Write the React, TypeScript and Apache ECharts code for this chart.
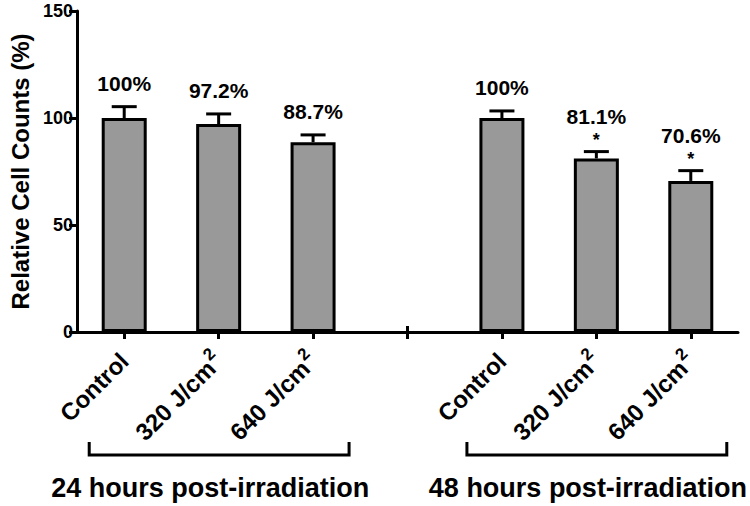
import React, { useEffect, useRef } from "react";
import * as echarts from "echarts";

const categories = ["Control", "320 J/cm²", "640 J/cm²", "", "Control", "320 J/cm²", "640 J/cm²"];
const values: (number | null)[] = [100, 97.2, 88.7, null, 100, 81.1, 70.6];
const errors: (number | null)[] = [5.3, 4.7, 3.4, null, 3.3, 3.2, 4.8];
const valueLabels = ["100%", "97.2%", "88.7%", "", "100%", "81.1%", "70.6%"];
const significance = ["", "", "", "", "", "*", "*"];
const groupNames = ["24 hours post-irradiation", "48 hours post-irradiation"];
const groupRanges = [
  [0, 2],
  [4, 6],
];
const yMin = 0;
const yMax = 150;
const yInterval = 50;

const FONT = '"Liberation Sans", Arial, Helvetica, sans-serif';

export default function App() {
  const ref = useRef<HTMLDivElement>(null);

  useEffect(() => {
    if (!ref.current) return;
    const chart = echarts.init(ref.current, undefined, { renderer: "svg" });

    const errData = categories.map((_, i) =>
      values[i] == null ? [i, 0, 0, 1] : [i, values[i] as number, errors[i] as number, 0]
    );
    const bracketData = groupRanges.map((r, g) => [r[0], r[1], g]);

    chart.setOption({
      animation: false,
      backgroundColor: "#ffffff",
      grid: { left: 74, right: 12, top: 11, bottom: 174, containLabel: false },
      xAxis: {
        type: "category",
        data: categories,
        axisLine: { show: true, lineStyle: { color: "#000", width: 3 } },
        axisTick: { show: true, alignWithLabel: true, length: 7, lineStyle: { color: "#000", width: 3 } },
        splitLine: { show: false },
        axisLabel: {
          interval: 0,
          rotate: 45,
          margin: 25,
          color: "#000",
          fontWeight: "bold",
          fontSize: 24,
          fontFamily: FONT,
          lineHeight: 34,
          formatter: (v: string) => (v.indexOf("²") >= 0 ? v.replace("²", "") + "{sup|2}" : v),
          rich: {
            sup: {
              fontSize: 17,
              fontWeight: "bold",
              fontFamily: FONT,
              color: "#000",
              verticalAlign: "top",
              lineHeight: 10,
              padding: [0, 0, 0, 1],
            },
          },
        },
      },
      yAxis: {
        type: "value",
        min: yMin,
        max: yMax,
        interval: yInterval,
        name: "Relative Cell Counts (%)",
        nameLocation: "middle",
        nameGap: 45,
        nameTextStyle: { color: "#000", fontWeight: "bold", fontSize: 24, fontFamily: FONT },
        axisLine: { show: true, lineStyle: { color: "#000", width: 3 } },
        axisTick: { show: true, length: 8, lineStyle: { color: "#000", width: 3 } },
        splitLine: { show: false },
        axisLabel: { color: "#000", fontWeight: "bold", fontSize: 18, fontFamily: FONT, margin: 4 },
      },
      series: [
        {
          type: "bar",
          data: values.map((v) => (v == null ? "-" : v)),
          barWidth: 45,
          itemStyle: { color: "#999999", borderColor: "#000", borderWidth: 3 },
          z: 2,
        },
        {
          type: "custom",
          clip: false,
          z: 3,
          data: errData,
          encode: { x: 0, y: 1 },
          renderItem: (params: any, api: any) => {
            const i = api.value(0);
            const v = api.value(1);
            const e = api.value(2);
            const isBreak = api.value(3);
            if (isBreak) {
              const p = api.coord([i, 0]);
              return {
                type: "line",
                shape: { x1: p[0], y1: p[1] - 6, x2: p[0], y2: p[1] + 7 },
                style: { stroke: "#000", lineWidth: 3 },
              };
            }
            const base = api.coord([i, v]);
            const top = api.coord([i, v + e]);
            const children: any[] = [
              {
                type: "line",
                shape: { x1: base[0], y1: base[1], x2: top[0], y2: top[1] },
                style: { stroke: "#000", lineWidth: 3 },
              },
              {
                type: "line",
                shape: { x1: top[0] - 12.5, y1: top[1], x2: top[0] + 12.5, y2: top[1] },
                style: { stroke: "#000", lineWidth: 3 },
              },
            ];
            const idx = params.dataIndex;
            const star = significance[idx];
            let labelY = top[1] - 23;
            if (star) {
              children.push({
                type: "text",
                x: top[0],
                y: top[1] - 12,
                style: {
                  text: star,
                  fill: "#000",
                  fontSize: 18,
                  fontWeight: "bold",
                  fontFamily: FONT,
                  align: "center",
                  verticalAlign: "middle",
                },
              });
              labelY = top[1] - 35;
            }
            children.push({
              type: "text",
              x: top[0],
              y: labelY,
              style: {
                text: valueLabels[idx],
                fill: "#000",
                fontSize: 21,
                fontWeight: "bold",
                fontFamily: FONT,
                align: "center",
                verticalAlign: "middle",
              },
            });
            return { type: "group", children };
          },
        },
        {
          type: "custom",
          clip: false,
          z: 3,
          data: bracketData,
          encode: { x: [0, 1] },
          renderItem: (params: any, api: any) => {
            const s = api.value(0);
            const e = api.value(1);
            const g = api.value(2);
            const p0 = api.coord([s, 0]);
            const p1 = api.coord([e, 0]);
            const left = p0[0] - 35;
            const right = p1[0] + 36;
            const yTop = p0[1] + 110;
            const yBot = p0[1] + 123;
            return {
              type: "group",
              children: [
                {
                  type: "polyline",
                  shape: {
                    points: [
                      [left, yTop],
                      [left, yBot],
                      [right, yBot],
                      [right, yTop],
                    ],
                  },
                  style: { stroke: "#000", lineWidth: 3, fill: "none" },
                },
                {
                  type: "text",
                  x: (left + right) / 2 - 9,
                  y: p0[1] + 156,
                  style: {
                    text: groupNames[g],
                    fill: "#000",
                    fontSize: 27,
                    fontWeight: "bold",
                    fontFamily: FONT,
                    align: "center",
                    verticalAlign: "middle",
                  },
                },
              ],
            };
          },
        },
      ],
    });

    return () => chart.dispose();
  }, []);

  return <div ref={ref} style={{ width: 750, height: 506, position: "absolute", left: 0, top: 0 }} />;
}
